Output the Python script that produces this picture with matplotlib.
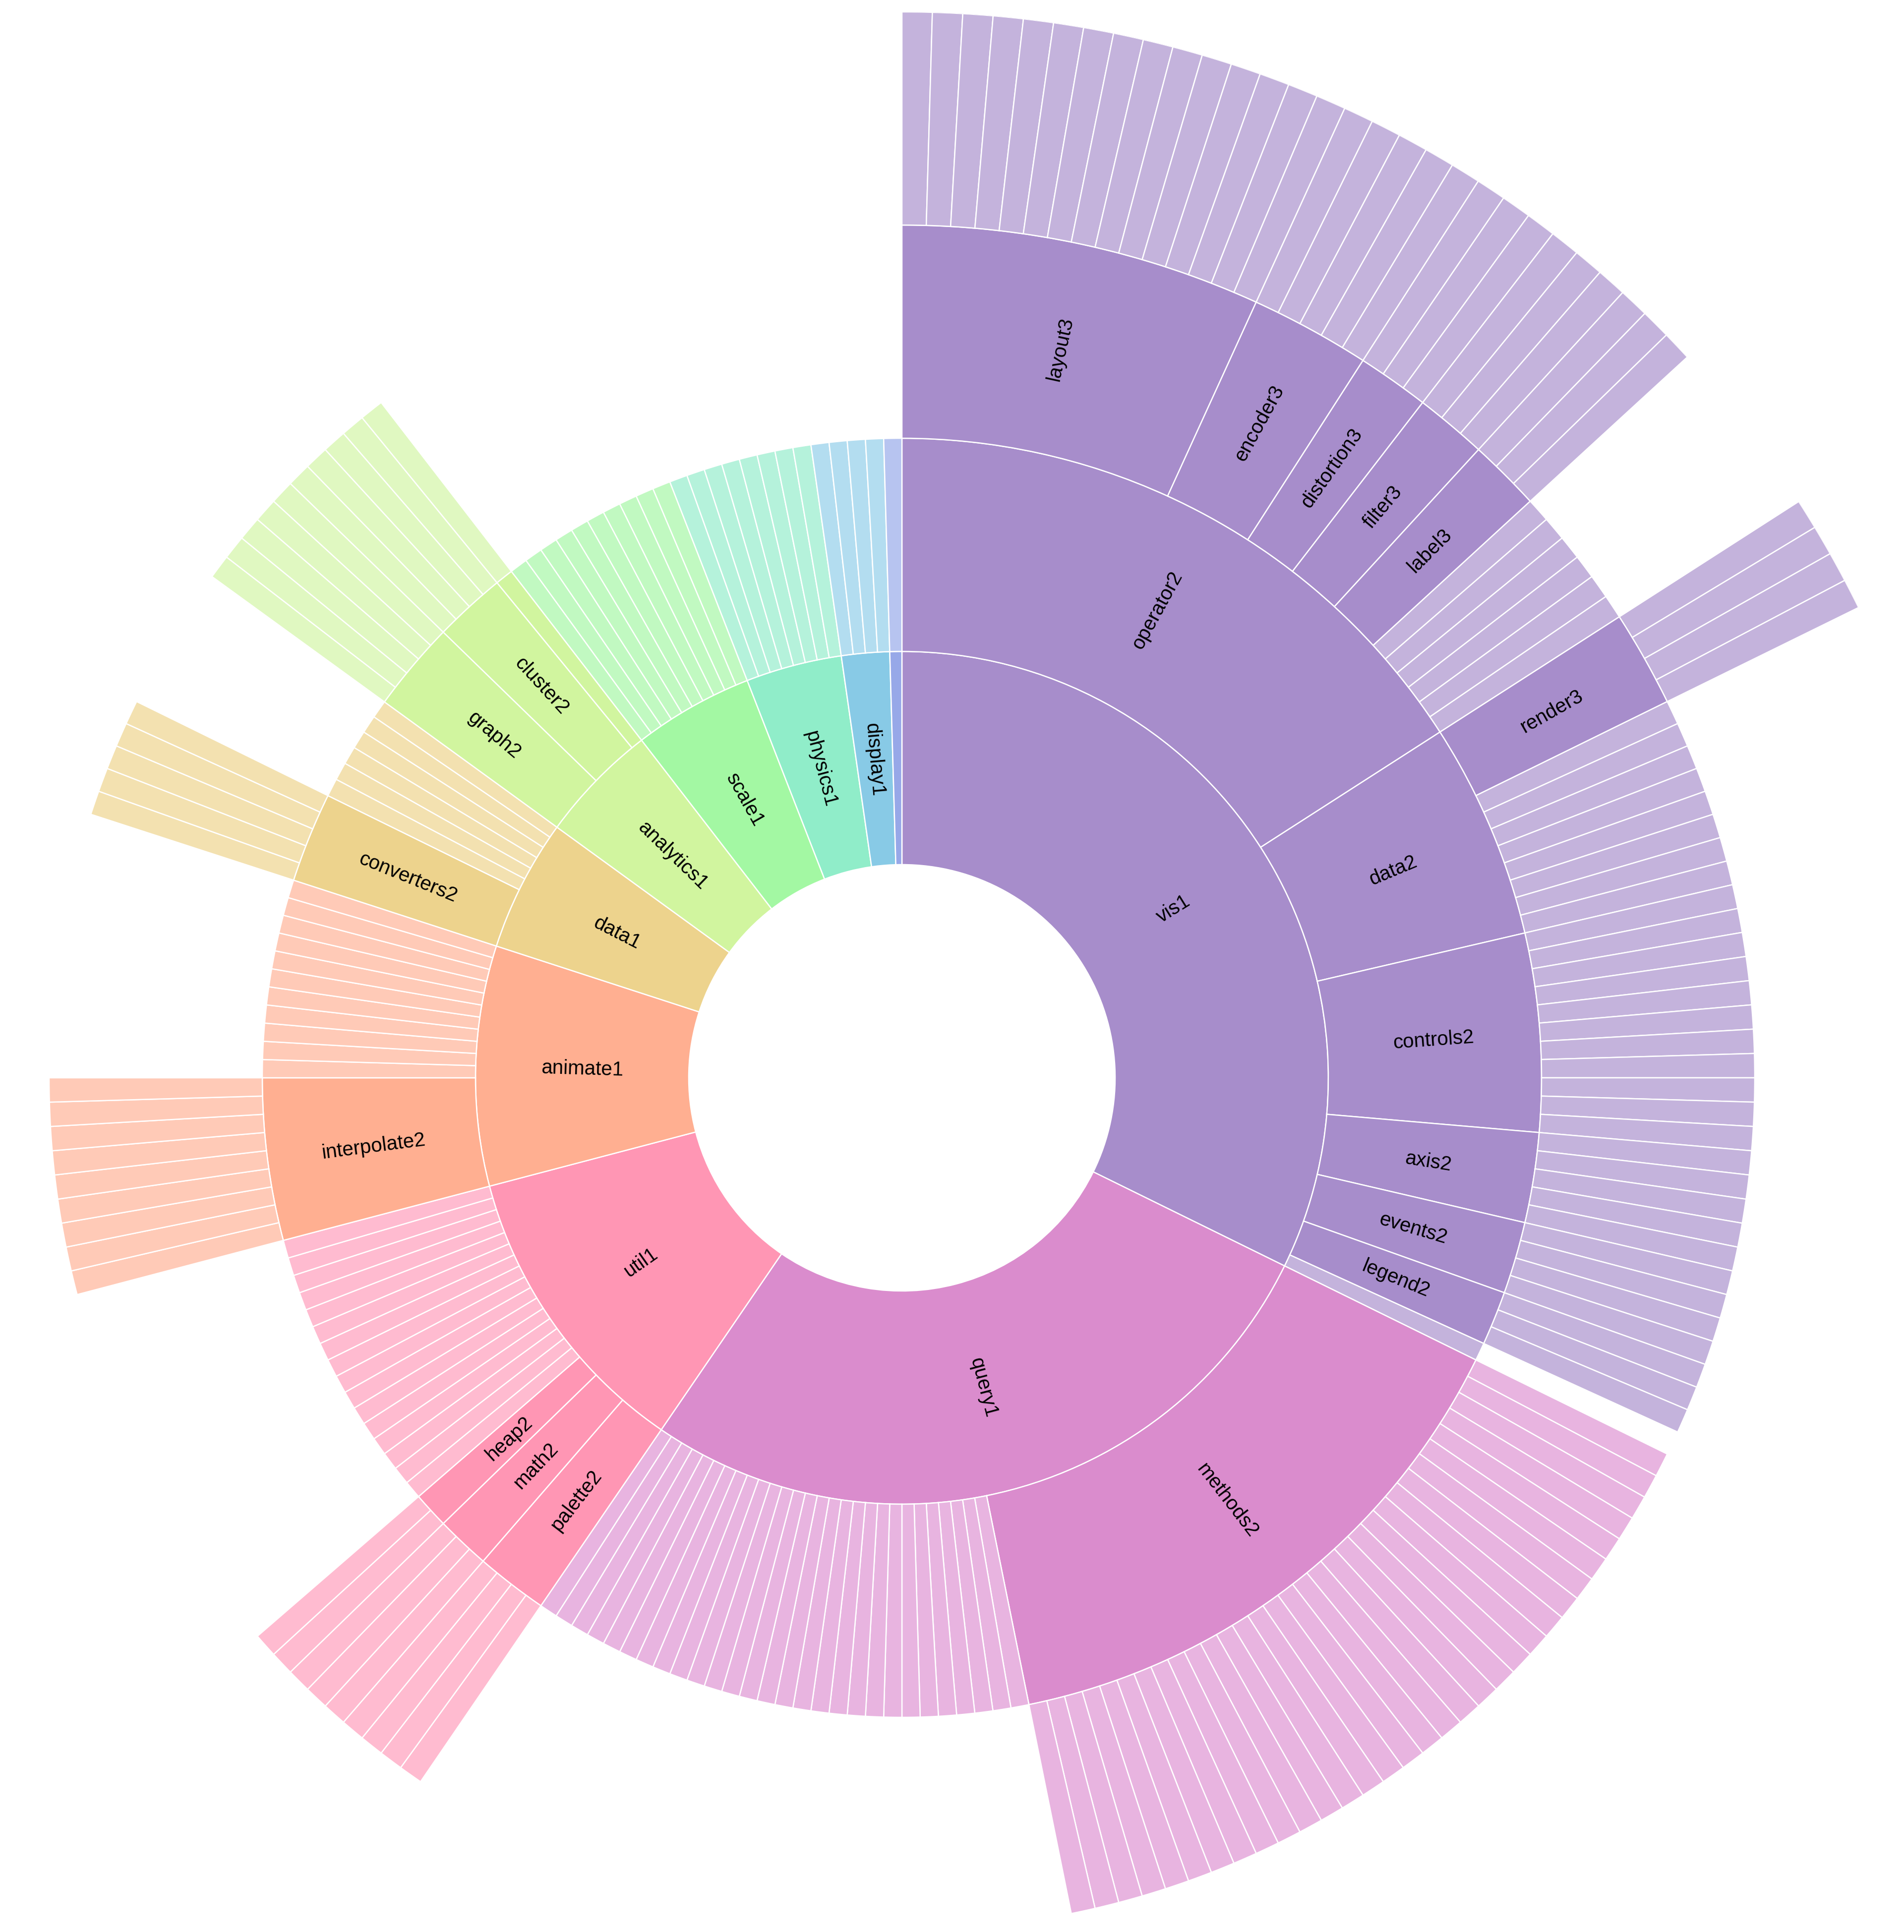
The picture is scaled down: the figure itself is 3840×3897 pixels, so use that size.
import numpy as np
import matplotlib
matplotlib.use("Agg")
import matplotlib.pyplot as plt

# top level, largest first (every leaf counts 1)
top = ["vis1", "query1", "util1", "animate1", "data1",
       "analytics1", "scale1", "physics1", "display1", "flex1"]

# sub-groups of each node, in drawing order
groups = {
    "vis1": ["operator2", "data2", "controls2", "axis2", "events2", "legend2"],
    "operator2": ["layout3", "encoder3", "distortion3", "filter3", "label3"],
    "data2": ["render3"],
    "query1": ["methods2"],
    "util1": ["palette2", "math2", "heap2"],
    "animate1": ["interpolate2"],
    "data1": ["converters2"],
    "analytics1": ["graph2", "cluster2", "optimization2"],
}

# plain leaves hanging directly under each node (drawn after its sub-groups)
leaf_counts = {
    "vis1": 1, "operator2": 6, "layout3": 15, "encoder3": 5, "distortion3": 3,
    "filter3": 3, "label3": 3, "data2": 8, "render3": 4, "controls2": 11,
    "axis2": 5, "events2": 4, "legend2": 3,
    "query1": 28, "methods2": 32,
    "util1": 16, "palette2": 4, "math2": 3, "heap2": 2,
    "animate1": 11, "interpolate2": 9,
    "data1": 6, "converters2": 5,
    "analytics1": 0, "graph2": 5, "cluster2": 4, "optimization2": 1,
    "scale1": 10, "physics1": 8, "display1": 4, "flex1": 1,
}

base_colors = ["#a78dcb", "#da8ccd", "#ff96b4", "#ffaf91", "#edd38d",
               "#d1f59f", "#a3f8a3", "#90edc9", "#88cae6", "#97a8e8"]
leaf_colors = ["#c4b3dc", "#e8b4e0", "#ffbbd0", "#ffcab7", "#f3e1b0",
               "#e0f8c1", "#c1f9c1", "#b5f2db", "#b3ddf0", "#b7c4f0"]


def size(name):
    return leaf_counts[name] + sum(size(g) for g in groups.get(name, []))


total = sum(size(n) for n in top)
unit = 2 * np.pi / total

thetas, widths, bottoms, colors = [], [], [], []
labels = []


def layout(name, start, depth, base, light):
    n = size(name)
    thetas.append(start * unit)
    widths.append(n * unit)
    bottoms.append(depth)
    colors.append(base)
    if n >= 2:
        labels.append((name, (start + n / 2) * unit, depth + 0.5))
    pos = start
    for g in groups.get(name, []):
        layout(g, pos, depth + 1, base, light)
        pos += size(g)
    for i in range(leaf_counts[name]):
        thetas.append((pos + i) * unit)
        widths.append(unit)
        bottoms.append(depth + 1)
        colors.append(light)


pos = 0
for name, bc, lc in zip(top, base_colors, leaf_colors):
    layout(name, pos, 1, bc, lc)
    pos += size(name)

W, H = 3840, 3898
cx, cy, ring = 1819, 2175, 430
side = 2 * 5 * ring

fig = plt.figure(figsize=(W / 100, H / 100), dpi=100)
ax = fig.add_axes([(cx - side / 2) / W, (H - cy - side / 2) / H, side / W, side / H],
                  projection="polar")
ax.set_theta_zero_location("N")
ax.set_theta_direction(-1)

ax.bar(thetas, 1, width=widths, bottom=bottoms, align="edge",
       color=colors, edgecolor="white", linewidth=1.8)

for name, th, r in labels:
    a = np.degrees(th)
    rot = 90 - a if a < 180 else 270 - a
    ax.text(th, r, name, rotation=rot, rotation_mode="anchor",
            ha="center", va="center", fontsize=29,
            family=["Liberation Sans", "DejaVu Sans"], color="black")

ax.set_ylim(0, 5)
ax.set_axis_off()

fig.savefig("out.png", dpi=100, facecolor="white")
